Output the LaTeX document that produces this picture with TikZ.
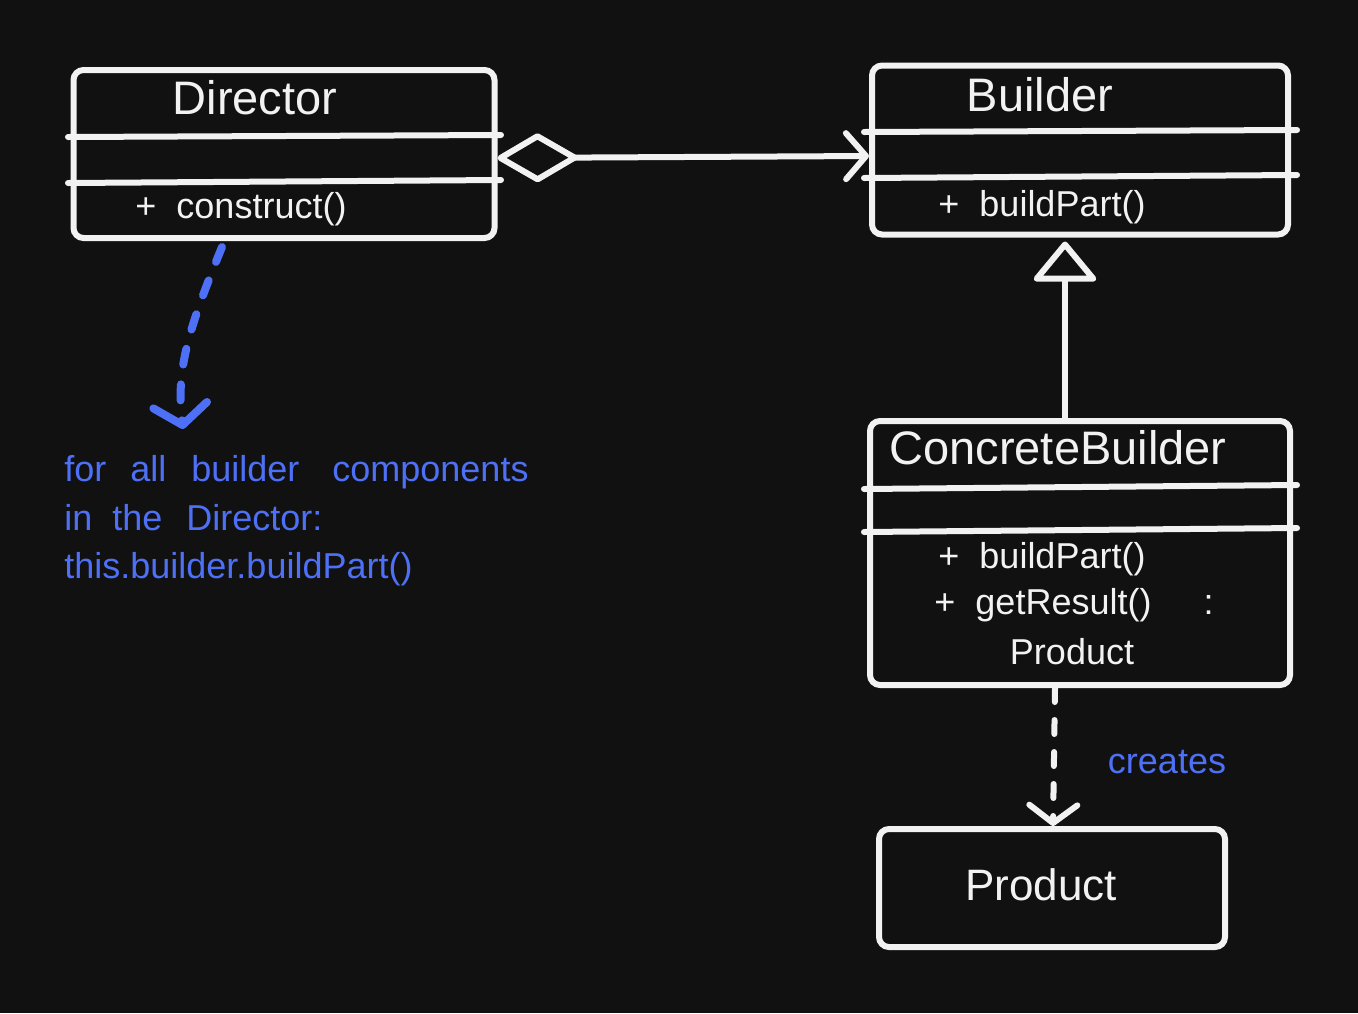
\documentclass[tikz,border=0pt]{standalone}
\usepackage{fontspec}
\setmainfont{Liberation Sans}
\usepackage{tikz}
\usetikzlibrary{positioning,arrows.meta,calc}
\definecolor{bg}{RGB}{17,17,17}
\definecolor{ink}{RGB}{242,242,242}
\definecolor{note}{RGB}{78,112,246}
\tikzset{
  cls/.style={draw=ink, line width=3pt, rounded corners=5pt, inner sep=0pt},
  rule/.style={draw=ink, line width=3pt, line cap=round},
  title/.style={text=ink, font=\fontsize{23.5}{28}\selectfont, inner sep=0pt},
  member/.style={text=ink, font=\fontsize{18}{22}\selectfont, inner sep=0pt},
  memo/.style={text=note, font=\fontsize{18}{24.25}\selectfont, align=left,
               anchor=north west, inner sep=0pt},
  flow/.style={draw=ink, line width=3pt, line cap=round, line join=round},
  dep/.style={flow, dash pattern=on 7pt off 9pt},
  memoflow/.style={draw=note, line width=4pt, line cap=round, line join=round,
                   dash pattern=on 8pt off 10pt},
}

\begin{document}
\begin{tikzpicture}[x=0.5pt, y=-0.5pt]
  \fill[bg] (0,0) rectangle (1358,1013);
  \useasboundingbox (0,0) rectangle (1358,1013);

  % class boxes
  \node[cls, minimum width=210.5pt, minimum height=84pt] (dir) at (284,154) {};
  \node[cls, minimum width=208pt, minimum height=84.5pt] (bld) at (1080,150) {};
  \node[cls, minimum width=210pt, minimum height=132pt] (cb) at (1080,553) {};
  \node[cls, minimum width=173pt, minimum height=59pt] (prod) at (1052,888) {};

  % compartments
  \draw[rule] (68,137) -- (501,135);
  \draw[rule] (68,183) -- (501,180);
  \draw[rule] (864,132) -- (1297,130);
  \draw[rule] (864,178) -- (1297,175);
  \draw[rule] (864,489) -- (1297,485);
  \draw[rule] (864,532) -- (1297,528);

  % texts
  \node[title] (dirname) at (255,98) {Director};
  \node[member] (dirop) at (241,209) {+\ \ construct()};
  \node[title] (bldname) at (1040,95) {Builder};
  \node[member] (bldop) at (1042,207) {+\ \ buildPart()};
  \node[title] (cbname) at (1058,448) {ConcreteBuilder};
  \node[member] (cbop) at (1042,559) {+\ \ buildPart()};
  \node[member] (cbres) at (1074,605) {+\ \ getResult()\hspace{26pt}:};
  \node[member] (cbtype) at (1072,652) {Product};
  \node[title, font=\fontsize{22}{26}\selectfont] (prodname) at (1041,885) {Product};
  \node[member, text=note] (creates) at (1167,762) {creates};
  \node[memo] (memo) at (64,455) {for\hspace{12pt}all\hspace{12.5pt}builder\hspace{16.5pt}components\\
    in\hspace{10pt}the\hspace{12pt}Director:\\this.builder.buildPart()};
  \coordinate (memotip) at (183,429);

  % relations
  \draw[flow, {Diamond[open, length=43pt, width=25pt, round]}-{Straight Barb[length=10pt, width=23pt, round]}]
    ([yshift=-2pt]dir.east) -- ([yshift=-3pt]bld.west);
  \draw[flow, -{Triangle[open, length=21pt, width=34pt, round]}, shorten >=2pt]
    ([xshift=-7.5pt]cb.north) -- ([xshift=-7.5pt]bld.south);
  \draw[dep, -{Straight Barb[length=9pt, width=24pt, round]}]
    ([xshift=-12.5pt]cb.south) -- ([xshift=0.5pt]prod.north);
  \draw[memoflow, -{Straight Barb[length=10pt, width=27pt, round]}]
    ([xshift=-31pt, yshift=-3pt]dir.south) .. controls (188,330) and (176,370) .. (memotip);
\end{tikzpicture}
\end{document}
